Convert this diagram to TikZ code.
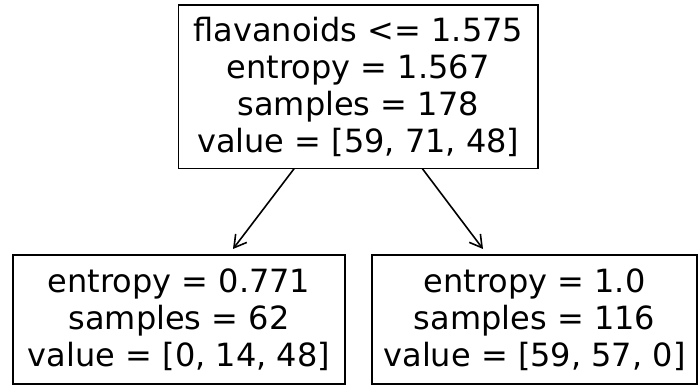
\documentclass[tikz,border=0pt]{standalone}
\usepackage{fontspec}
\setmainfont{DejaVu Sans}
\usetikzlibrary{arrows.meta,calc}
\begin{document}
\begin{tikzpicture}[x=1pt,y=-1pt,
  treenode/.style={draw, line width=1.8pt, align=center, inner sep=0pt,
    outer sep=0pt, font=\fontsize{32}{37}\selectfont},
  edge/.style={line width=1.6pt, -{Straight Barb[length=12pt,width=14pt]}}]
  \useasboundingbox (0,0) rectangle (698,385);

  % split node
  \node[treenode, minimum width=359.5pt, minimum height=163.5pt] (root) at (358.25,86.75)
    {flavanoids <= 1.575\\entropy = 1.567\\samples = 178\\value = [59, 71, 48]};

  % leaves
  \node[treenode, minimum width=332pt, minimum height=129pt] (left) at (179,319.5)
    {entropy = 0.771\\samples = 62\\value = [0, 14, 48]};
  \node[treenode, minimum width=325pt, minimum height=129pt] (right) at (534.5,319.5)
    {entropy = 1.0\\samples = 116\\value = [59, 57, 0]};

  % branches
  \draw[edge] ($(root.south)+(-64,0)$) -- ($(left.north)+(54,-6)$);
  \draw[edge] ($(root.south)+(64,0)$) -- ($(right.north)+(-51.5,-6)$);
\end{tikzpicture}
\end{document}
